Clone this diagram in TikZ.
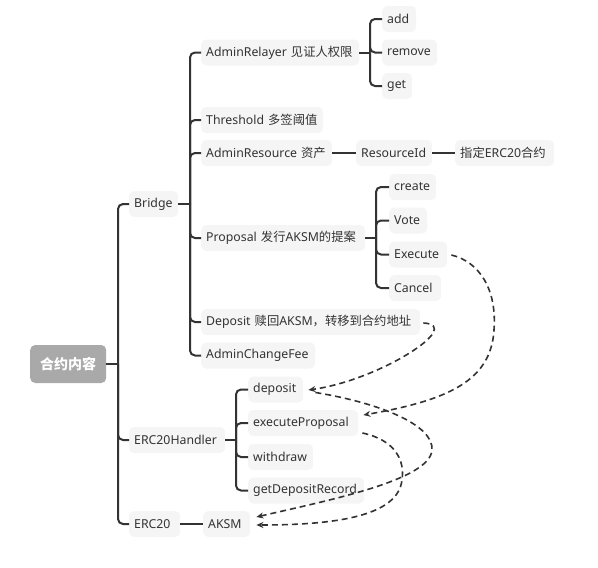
\documentclass[tikz,border=0pt]{standalone}
\usepackage{fontspec}
\setmainfont{Noto Sans}
\newfontfamily\cjk{Noto Sans CJK SC}
\usetikzlibrary{calc,arrows.meta}
\definecolor{boxgray}{HTML}{F5F5F5}
\definecolor{rootgray}{HTML}{A9A9A9}
\definecolor{ink}{HTML}{333333}
\newcommand{\bt}[1]{\mbox{#1}}
\tikzset{
  box/.style={rounded corners=5pt, fill=boxgray, text=ink, minimum height=26pt,
    inner xsep=5pt, inner ysep=0pt, anchor=west, align=left,
    font=\fontsize{12.3}{14}\selectfont},
  rootbox/.style={rounded corners=5pt, fill=rootgray, text=white, minimum height=38pt,
    minimum width=76pt, inner xsep=2pt, inner ysep=0pt, anchor=west,
    font=\fontsize{14}{16}\selectfont\bfseries},
  tree/.style={draw=ink, line width=2pt, rounded corners=5pt},
  stem/.style={draw=ink, line width=2pt},
  link/.style={draw=ink, line width=1.6pt, dash pattern=on 6pt off 4pt,
    -{Stealth[length=7pt,width=6pt]}},
}
\begin{document}
\begin{tikzpicture}[x=1pt,y=-1pt]
\useasboundingbox (0,0) rectangle (598,568);
% nodes
\node[rootbox] (root) at (30,364) {\cjk 合约内容};
\node[box, text width=39pt] (bridge) at (129,204) {\bt{Bridge}};
\node[box, text width=86pt] (handler) at (129,440) {\bt{ERC20Handler}};
\node[box, text width=41pt] (erc) at (129,524) {\bt{ERC20}};
\node[box, text width=37pt] (aksm) at (203,524) {\bt{AKSM}};
\node[box, text width=148pt] (relayer) at (201,52.5) {\bt{AdminRelayer {\cjk 见证人权限}}};
\node[box, text width=112pt] (thresh) at (201,120) {\bt{Threshold {\cjk 多签阈值}}};
\node[box, text width=121pt] (res) at (201,153) {\bt{AdminResource {\cjk 资产}}};
\node[box, text width=66pt] (resid) at (356,153) {\bt{ResourceId}};
\node[box, text width=89pt] (spec) at (455,153) {\bt{{\cjk 指定}ERC20{\cjk 合约}}};
\node[box, text width=154pt] (prop) at (201,238) {\bt{Proposal {\cjk 发行}AKSM{\cjk 的提案}}};
\node[box, text width=209pt] (bdep) at (201,322) {\bt{Deposit {\cjk 赎回}AKSM{\cjk ，转移到合约地址}}};
\node[box, text width=104pt] (fee) at (201,355.5) {\bt{AdminChangeFee}};
\node[box, text width=24pt] (add) at (382,19) {\bt{add}};
\node[box, text width=45pt] (remove) at (382,52.5) {\bt{remove}};
\node[box, text width=20pt] (get) at (382,86) {\bt{get}};
\node[box, text width=37pt] (create) at (389,187) {\bt{create}};
\node[box, text width=28pt] (vote) at (389,220.5) {\bt{Vote}};
\node[box, text width=48pt] (exec) at (389,254.5) {\bt{Execute}};
\node[box, text width=42pt] (cancel) at (389,288) {\bt{Cancel}};
\node[box, text width=45pt] (hdep) at (248,389.5) {\bt{deposit}};
\node[box, text width=100pt] (hexec) at (248,423) {\bt{executeProposal}};
\node[box, text width=55pt] (withdraw) at (248,457) {\bt{withdraw}};
\node[box, text width=106pt] (record) at (248,490.5) {\bt{getDepositRecord}};
% bracket positions
\coordinate (broot) at (118,0);
\coordinate (bbridge) at (190,0);
\coordinate (brel) at (370,0);
\coordinate (bprop) at (376,0);
\coordinate (bhand) at (236,0);
% tree connectors
\draw[stem] (root.east) -- (root.east -| broot);
\foreach \c in {bridge,handler,erc} \draw[tree] (root.east -| broot) |- (\c.west);
\draw[stem] (bridge.east) -- (bridge.east -| bbridge);
\foreach \c in {relayer,thresh,res,prop,bdep,fee} \draw[tree] (bridge.east -| bbridge) |- (\c.west);
\draw[stem] (relayer.east) -- (relayer.east -| brel);
\foreach \c in {add,remove,get} \draw[tree] (relayer.east -| brel) |- (\c.west);
\draw[stem] (prop.east) -- (prop.east -| bprop);
\foreach \c in {create,vote,exec,cancel} \draw[tree] (prop.east -| bprop) |- (\c.west);
\draw[stem] (handler.east) -- (handler.east -| bhand);
\foreach \c in {hdep,hexec,withdraw,record} \draw[tree] (handler.east -| bhand) |- (\c.west);
\draw[stem] (res) -- (resid);
\draw[stem] (resid) -- (spec);
\draw[stem] (erc) -- (aksm);
% dashed relation links
\draw[link] ($(bdep.east)+(3,1)$) .. controls (465,325) and (380,380) .. ($(hdep.east)+(5,0.5)$);
\draw[link] ($(exec.east)+(4,0.5)$) .. controls (480,262) and (497,290) .. (494,330)
  .. controls (491,380) and (450,400) .. ($(hexec.east)+(5,-8)$);
\draw[link] ($(hdep.east)+(12,3)$) .. controls (380,403) and (434,425) .. (432,450)
  .. controls (430,480) and (330,500) .. ($(aksm.east)+(6,-7)$);
\draw[link] ($(hexec.east)+(4,10)$) .. controls (395,440) and (405,460) .. (402,480)
  .. controls (398,515) and (340,525) .. ($(aksm.east)+(6,1)$);
\end{tikzpicture}
\end{document}
